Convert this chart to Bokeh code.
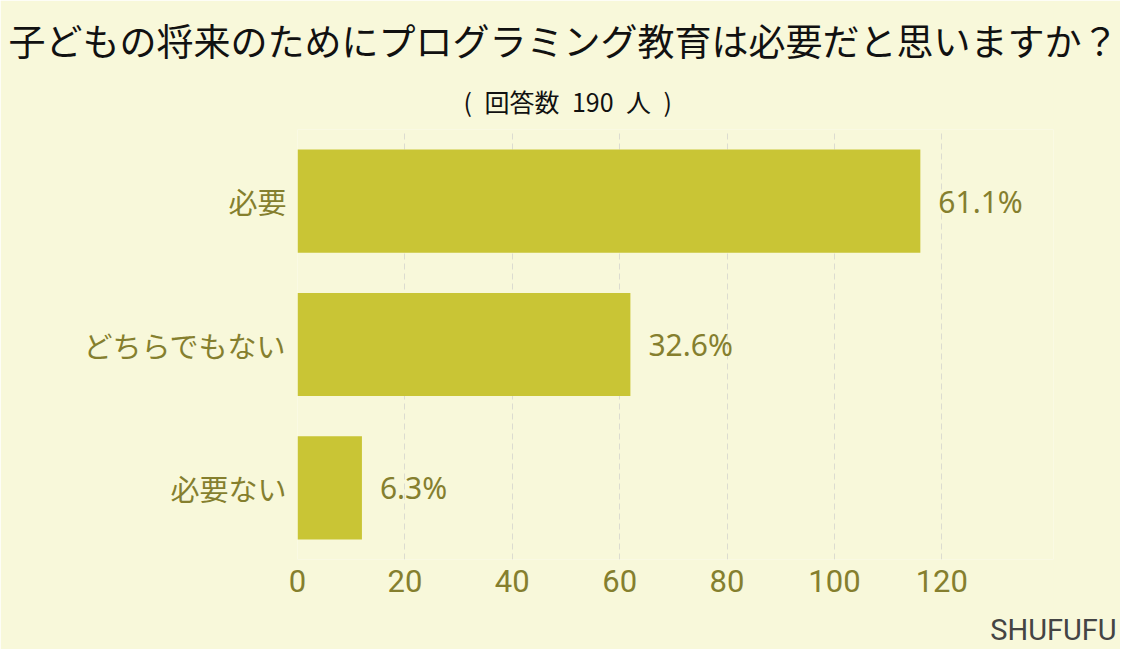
from bokeh.plotting import figure
from bokeh.models import Title, ColumnDataSource, FactorRange, Range1d, FixedTicker, LabelSet
from bokeh.core.properties import value
from bokeh.embed import file_html
from bokeh.resources import INLINE

categories = ["必要", "どちらでもない", "必要ない"]
counts = [116, 62, 12]
pct_labels = ["61.1%", "32.6%", "6.3%"]
x_ticks = [0, 20, 40, 60, 80, 100, 120]

BG = "#F8F8DA"
BAR = "#C9C535"
TXT = "#857F2E"
JP = "Noto Sans CJK JP"

src = ColumnDataSource(dict(cat=categories, n=counts, lab=pct_labels))

p = figure(width=1120, height=649, output_backend="svg", toolbar_location=None,
           y_range=FactorRange(factors=list(reversed(categories)), range_padding=0),
           x_range=Range1d(0, 140.8), title=None,
           min_border_left=297, min_border_right=67, min_border_top=129,
           min_border_bottom=88)
p.background_fill_color = BG
p.border_fill_color = BG
p.outline_line_color = None

p.add_layout(Title(text="(\u2002回答数\u2002190\u2002人\u2002)", text_font=JP,
                   text_font_size="25px", text_font_style="normal",
                   text_color="#111111", align="left", offset=463 - 297,
                   standoff=22), "above")
p.add_layout(Title(text="子どもの将来のためにプログラミング教育は必要だと思いますか？",
                   text_font=JP, text_font_size="37px", text_font_style="normal",
                   text_color="#111111", align="left", offset=8 - 297, standoff=6), "above")

p.hbar(y="cat", right="n", left=0, height=0.72, source=src, fill_color=BAR,
       line_color=None)
p.add_layout(LabelSet(x="n", y="cat", text="lab", source=src, x_offset=18,
                      text_baseline="middle", text_align="left",
                      text_font=value("Noto Sans"), text_font_size=value("30px"),
                      text_color=TXT))

xa = p.xaxis[0]
xa.ticker = FixedTicker(ticks=x_ticks)
xa.axis_line_color = None
xa.major_tick_line_color = None
xa.minor_tick_line_color = None
xa.major_label_text_font = "Roboto"
xa.major_label_text_font_size = "31px"
xa.major_label_text_color = TXT
xa.major_label_standoff = 4
xa.axis_label = "SHUFUFU"
xa.axis_label_text_font = "Roboto"
xa.axis_label_text_font_size = "29px"
xa.axis_label_text_font_style = "normal"
xa.axis_label_text_color = "#444444"
xa.axis_label_standoff = 18
xa.axis_label_align = "end"

p.yaxis.axis_line_color = None
p.yaxis.major_tick_line_color = None
p.yaxis.minor_tick_line_color = None
p.yaxis.major_label_text_font = JP
p.yaxis.major_label_text_font_size = "29px"
p.yaxis.major_label_text_color = TXT
p.yaxis.major_label_standoff = 5

p.ygrid.grid_line_color = None
p.xgrid.grid_line_color = "#DCDCD0"
p.xgrid.grid_line_dash = "6 4"
p.xgrid.grid_line_width = 1

open("out.html", "w").write(file_html(p, INLINE))
